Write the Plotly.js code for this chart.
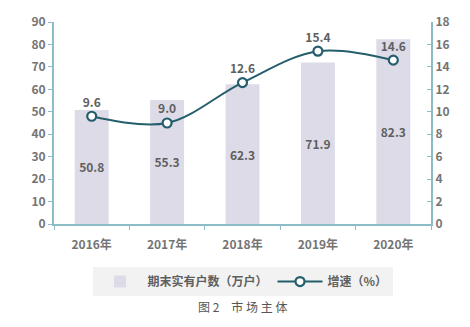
<!DOCTYPE html>
<html><head><meta charset="utf-8">
<script src="https://cdn.plot.ly/plotly-3.0.1.min.js"></script>
<style>html,body{margin:0;padding:0;background:#fff}#c{width:470px;height:327px}</style>
</head><body><div id="c"></div>
<script>
const years = ['2016年','2017年','2018年','2019年','2020年'];
const households = [50.8, 55.3, 62.3, 71.9, 82.3];
const growth = [9.6, 9.0, 12.6, 15.4, 14.6];
const barName = '期末实有户数（万户）';
const lineName = '增速（%）';
const caption = '图 2　市 场 主 体';

const F = '"Noto Sans CJK SC", "Noto Sans", sans-serif';
const gray = '#747474';
const axisCol = '#8cbcc6';

const traces = [
  {type:'bar', x: years, y: households, name: barName,
   marker:{color:'#dddbe8'}, width:0.45,
   text: households.map(v=>v.toFixed(1)), textposition:'inside', insidetextanchor:'middle',
   textfont:{family:F, size:12, color:'#5f5f5f', weight:'bold'}, hoverinfo:'none'},
  {type:'scatter', mode:'lines+markers+text', x: years, y: growth, yaxis:'y2', name: lineName,
   line:{color:'#245e6c', width:2, shape:'spline', smoothing:1},
   marker:{symbol:'circle', size:9, color:'#ffffff', line:{color:'#245e6c', width:2.2}},
   text: growth.map(v=>v.toFixed(1)), textposition:'top center',
   textfont:{family:F, size:12, color:'#5f5f5f', weight:'bold'}, cliponaxis:false, hoverinfo:'none'}
];

const layout = {
  width:470, height:327,
  margin:{l:54, r:39, t:22, b:103},
  paper_bgcolor:'#fff', plot_bgcolor:'#fff',
  font:{family:F, size:12, color:gray},
  showlegend:true,
  legend:{orientation:'h', x:0.5, xanchor:'center', y:-0.213, yanchor:'top',
    bgcolor:'#f2f2f2', font:{family:F, size:12, color:'#5f5f5f', weight:'bold'},
    itemwidth:45, traceorder:'normal'},
  xaxis:{type:'category', range:[-0.5,4.5], showline:true, linecolor:axisCol, linewidth:2,
    ticks:'outside', tickson:'boundaries', ticklen:4, tickcolor:axisCol, ticklabelstandoff:9,
    tickfont:{family:F, size:12, color:gray, weight:'bold'}, showgrid:false, zeroline:false},
  yaxis:{range:[0,90], dtick:10, showline:true, linecolor:axisCol, linewidth:2,
    ticks:'outside', ticklen:4, tickcolor:axisCol, showgrid:false, zeroline:false,
    tickfont:{family:F, size:12, color:gray, weight:'bold'}},
  yaxis2:{range:[0,18], dtick:2, overlaying:'y', side:'right', showline:true, linecolor:axisCol, linewidth:2,
    ticks:'inside', ticklen:4, tickcolor:axisCol, showgrid:false, zeroline:false,
    tickfont:{family:F, size:12, color:gray, weight:'bold'}},
  annotations:[{text: caption, xref:'paper', yref:'paper', x:0.5, y:-0.355, xanchor:'center', yanchor:'top',
    showarrow:false, font:{family:F, size:12, color:'#555'}}]
};
Plotly.newPlot('c', traces, layout, {displayModeBar:false, staticPlot:true});
</script></body></html>
